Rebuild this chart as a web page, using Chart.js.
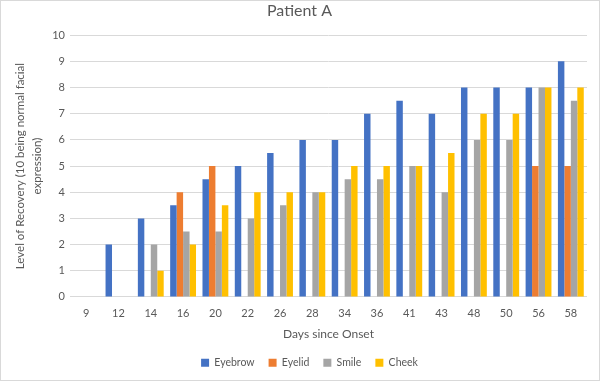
<!DOCTYPE html>
<html><head><meta charset="utf-8">
<script src="https://cdn.jsdelivr.net/npm/chart.js@4"></script>
<style>
html,body{margin:0;padding:0;background:#fff;}
#wrap{width:600px;height:381px;box-sizing:border-box;border:1px solid #d9d9d9;position:relative;}
canvas{display:block;}
</style></head>
<body><div id="wrap"><canvas id="c" width="598" height="379"></canvas></div>
<script>
const days = ["9","12","14","16","20","22","26","28","34","36","41","43","48","50","56","58"];
const eyebrow = [0,2,3,3.5,4.5,5,5.5,6,6,7,7.5,7,8,8,8,9];
const eyelid  = [0,0,0,4,5,0,0,0,0,0,0,0,0,0,5,5];
const smile   = [0,0,2,2.5,2.5,3,3.5,4,4.5,4.5,5,4,6,6,8,7.5];
const cheek   = [0,0,1,2,3.5,4,4,4,5,5,5,5.5,7,7,8,8];
const yTicks  = [0,1,2,3,4,5,6,7,8,9,10];

const FONT = "Lato, 'Liberation Sans', sans-serif";
const TXT = "#595959";
const legendShift = {
  id:'legendShift',
  afterLayout(chart){ if(chart.legend){ chart.legend.left += 10; chart.legend.right += 10; } }
};
new Chart(document.getElementById('c'), {
  type: 'bar',
  data: {
    labels: days,
    datasets: [
      {label:'Eyebrow', data:eyebrow, backgroundColor:'#4472C4'},
      {label:'Eyelid', data:eyelid, backgroundColor:'#ED7D31'},
      {label:'Smile', data:smile, backgroundColor:'#A5A5A5'},
      {label:'Cheek', data:cheek, backgroundColor:'#FFC000'}
    ]
  },
  plugins:[legendShift],
  options: {
    responsive:false, animation:false,
    devicePixelRatio:1,
    datasets:{bar:{categoryPercentage:0.8, barPercentage:1.0, borderWidth:0}},
    layout:{padding:{left:11,right:12,top:0,bottom:2}},
    plugins:{
      title:{display:true, text:'Patient A', color:TXT, font:{family:FONT,size:16,weight:'normal'}, padding:{top:0,bottom:15}},
      legend:{position:'bottom', labels:{color:TXT, font:{family:FONT,size:10.5}, boxWidth:8, boxHeight:8, padding:14}},
      tooltip:{enabled:false}
    },
    scales:{
      x:{
        grid:{display:false},
        border:{display:false},
        ticks:{color:TXT, font:{family:FONT,size:11}, padding:2},
        title:{display:true, text:'Days since Onset', color:TXT, font:{family:FONT,size:12}, padding:{top:5,bottom:2}}
      },
      y:{
        min:0, max:10,
        afterBuildTicks:(s)=>{s.ticks = yTicks.map(v=>({value:v}));},
        afterFit:(s)=>{s.width = 58;},
        grid:{color:'#d9d9d9', lineWidth:1, drawTicks:false},
        border:{display:false},
        ticks:{color:TXT, font:{family:FONT,size:11}, padding:5},
        title:{display:true, text:['Level of Recovery (10 being normal facial','expression)'], color:TXT, font:{family:FONT,size:11.5,lineHeight:1.45}, padding:{top:0,bottom:6}}
      }
    }
  }
});
</script></body></html>
